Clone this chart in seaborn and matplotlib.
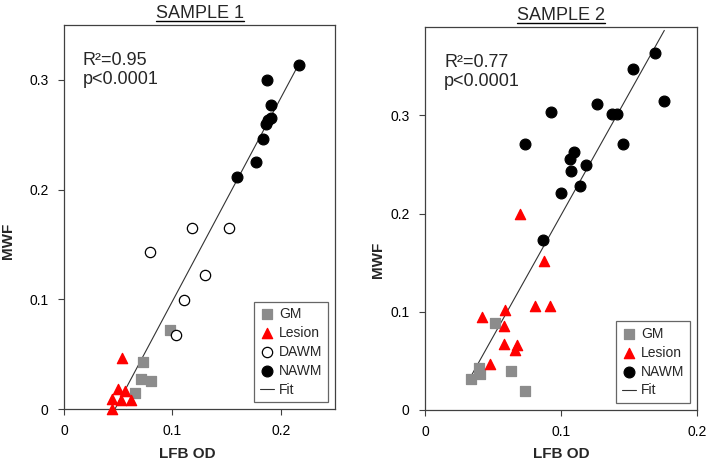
import numpy as np
import pandas as pd
import matplotlib
matplotlib.use("Agg")
import matplotlib.pyplot as plt
import seaborn as sns
from matplotlib.lines import Line2D

sns.set_style("white")
plt.rcParams['font.family'] = ['Liberation Sans', 'DejaVu Sans']

# ---------------- data: Sample 1 ----------------
s1_gm_x = [0.0977, 0.0725, 0.0710, 0.0805, 0.0654]
s1_gm_y = [0.0721, 0.0432, 0.0277, 0.0256, 0.0149]
s1_les_x = [0.0531, 0.0495, 0.0565, 0.0445, 0.0522, 0.0618, 0.0445]
s1_les_y = [0.0463, 0.0186, 0.0167, 0.0088, 0.0082, 0.0082, 0.0000]
s1_dawm_x = [0.118, 0.152, 0.0796, 0.130, 0.1106, 0.1035]
s1_dawm_y = [0.165, 0.165, 0.1434, 0.122, 0.0993, 0.0673]
s1_nawm_x = [0.2166, 0.187, 0.191, 0.1905, 0.188, 0.186, 0.184, 0.177, 0.160]
s1_nawm_y = [0.314, 0.300, 0.277, 0.2655, 0.263, 0.260, 0.246, 0.225, 0.2116]
s1_fit_x = [0.047, 0.2175]
s1_fit_y = [0.000, 0.316]

# ---------------- data: Sample 2 ----------------
s2_gm_x = [0.0512, 0.0400, 0.0404, 0.0336, 0.0635, 0.0738]
s2_gm_y = [0.0887, 0.0423, 0.0365, 0.0311, 0.0396, 0.0196]
s2_les_x = [0.0701, 0.0873, 0.0806, 0.0922, 0.0586, 0.0422, 0.0583, 0.0583, 0.0674, 0.0660, 0.0480]
s2_les_y = [0.1997, 0.1513, 0.1063, 0.1063, 0.1015, 0.0947, 0.0860, 0.0670, 0.0660, 0.0609, 0.0467]
s2_nawm_x = [0.169, 0.153, 0.176, 0.1267, 0.0924, 0.1377, 0.1412, 0.0738, 0.1458,
             0.1098, 0.1066, 0.1181, 0.1071, 0.1137, 0.1002, 0.0868]
s2_nawm_y = [0.3638, 0.3475, 0.3147, 0.3113, 0.3039, 0.3012, 0.3018, 0.2707, 0.2707,
             0.2623, 0.2552, 0.2491, 0.2437, 0.2281, 0.2206, 0.1726]
s2_fit_x = [0.0343, 0.176]
s2_fit_y = [0.0355, 0.3865]

titles = ["SAMPLE 1", "SAMPLE 2"]
stats = ["R\u00b2=0.95\np<0.0001", "R\u00b2=0.77\np<0.0001"]
x_ticks = [0, 0.1, 0.2]
y_ticks = [0, 0.1, 0.2, 0.3]
tick_labels_x = ["0", "0.1", "0.2"]
tick_labels_y = ["0", "0.1", "0.2", "0.3"]

GRAY = "#8c8c8c"
RED = "#ff0000"
SPINE = "#404040"

fig = plt.figure(figsize=(7.09, 4.63), dpi=100)
ax1 = fig.add_axes([0.0903, 0.1166, 0.3822, 0.8294])
ax2 = fig.add_axes([0.5994, 0.1145, 0.3836, 0.8272])

styles = {
    "GM": dict(marker="s", color=GRAY, edgecolor=GRAY, s=50),
    "Lesion": dict(marker="^", color=RED, edgecolor=RED, s=55),
    "DAWM": dict(marker="o", color="white", edgecolor="black", s=55),
    "NAWM": dict(marker="o", color="black", edgecolor="black", s=60),
}


def draw(ax, groups, fit_x, fit_y, xlim, ylim, title, stat, xlab_pos, ylab_pos):
    for name, (xs, ys) in groups.items():
        df = pd.DataFrame({"x": xs, "y": ys})
        st = styles[name]
        sns.scatterplot(data=df, x="x", y="y", ax=ax, marker=st["marker"],
                        color=st["color"], edgecolor=st["edgecolor"], s=st["s"],
                        linewidth=0.9, zorder=3, clip_on=False, label=name)
    fdf = pd.DataFrame({"x": fit_x, "y": fit_y})
    sns.lineplot(data=fdf, x="x", y="y", ax=ax, color="#333333", linewidth=0.8,
                 zorder=2, label="Fit")
    ax.set_xlim(*xlim)
    ax.set_ylim(*ylim)
    ax.set_xticks(x_ticks)
    ax.set_xticklabels(tick_labels_x)
    ax.set_yticks(y_ticks)
    ax.set_yticklabels(tick_labels_y)
    ax.tick_params(axis="both", which="both", direction="out", length=4,
                   width=0.8, colors=SPINE, labelcolor="black", labelsize=10,
                   bottom=True, left=True, top=False, right=False, pad=7)
    for sp in ax.spines.values():
        sp.set_color(SPINE)
        sp.set_linewidth(0.9)
    ax.set_xlabel("LFB OD", fontsize=11, fontweight="bold")
    ax.set_ylabel("MWF", fontsize=11, fontweight="bold")
    ax.xaxis.set_label_coords(*xlab_pos)
    ax.yaxis.set_label_coords(*ylab_pos)
    t = ax.set_title(title, fontsize=13, pad=5)
    ax.text(0.07, 0.93, stat, transform=ax.transAxes, fontsize=13, va="top",
            ha="left", linespacing=1.15)
    leg = ax.legend(loc="lower right", fontsize=10, frameon=True, fancybox=False,
                    edgecolor=SPINE, borderpad=0.4, labelspacing=0.35,
                    handlelength=1.0, handletextpad=0.4, borderaxespad=0.5)
    leg.get_frame().set_linewidth(0.9)
    return t


t1 = draw(ax1,
          {"GM": (s1_gm_x, s1_gm_y), "Lesion": (s1_les_x, s1_les_y),
           "DAWM": (s1_dawm_x, s1_dawm_y), "NAWM": (s1_nawm_x, s1_nawm_y)},
          s1_fit_x, s1_fit_y, (0, 0.25), (0, 0.35), titles[0], stats[0],
          (0.454, -0.10), (-0.181, 0.4375))
t2 = draw(ax2,
          {"GM": (s2_gm_x, s2_gm_y), "Lesion": (s2_les_x, s2_les_y),
           "NAWM": (s2_nawm_x, s2_nawm_y)},
          s2_fit_x, s2_fit_y, (0, 0.2), (0, 0.39), titles[1], stats[1],
          (0.50, -0.097), (-0.147, 0.392))

# underline titles
fig.canvas.draw()
r = fig.canvas.get_renderer()
for t in (t1, t2):
    bb = t.get_window_extent(renderer=r)
    inv = fig.transFigure.inverted()
    (x0, y0), (x1, _) = inv.transform([(bb.x0, bb.y0), (bb.x1, bb.y1)])
    fig.add_artist(Line2D([x0, x1], [y0 + 0.002, y0 + 0.002],
                          transform=fig.transFigure, color="black", linewidth=1.0))

fig.savefig("out.png", dpi=100)
